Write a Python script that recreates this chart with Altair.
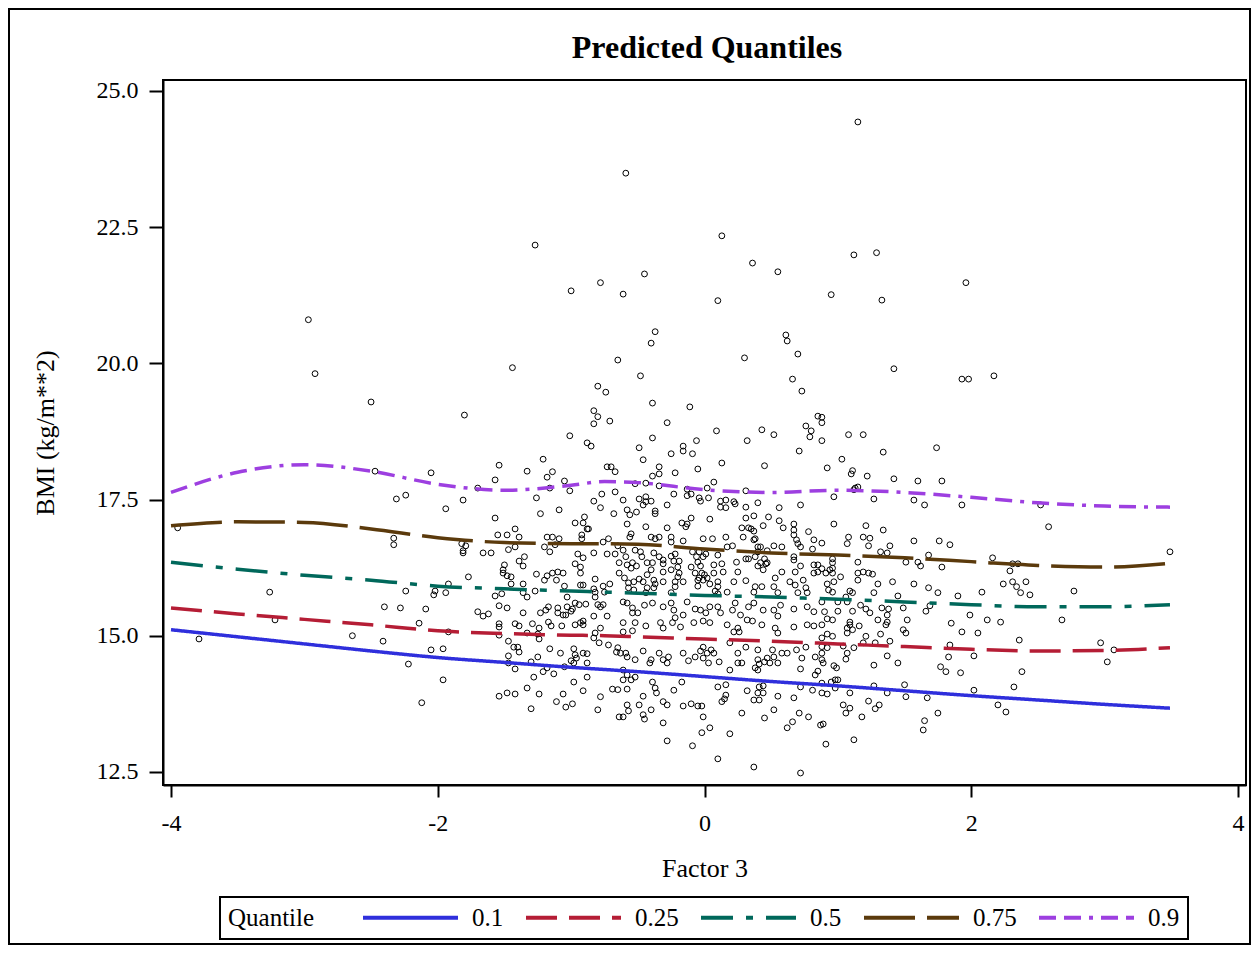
import altair as alt
import pandas as pd

obs_outer = [
    (-2.97, 20.80), (-2.92, 19.81), (-2.50, 19.29), (-2.47, 18.02), (-2.05, 17.99), (-2.31, 17.51),
    (-2.24, 17.58), (-3.95, 16.98), (-2.33, 16.79), (-2.33, 16.67), (-3.26, 15.80), (-2.24, 15.82),
    (-2.02, 15.82), (-2.03, 15.75), (-2.40, 15.53), (-2.28, 15.51), (-2.09, 15.49), (-3.22, 15.29),
    (-2.14, 15.23), (-3.79, 14.94), (-2.64, 15.00), (-2.41, 14.90), (-2.05, 14.74), (-2.22, 14.48),
    (-2.12, 13.77), (-1.96, 14.19), (-1.80, 19.05), (-1.27, 22.17), (-1.44, 19.92), (-1.00, 21.33),
    (-0.78, 21.48), (-0.61, 21.27), (-0.59, 23.49), (-0.45, 21.64), (-0.40, 20.37), (-0.37, 20.58),
    (-0.65, 20.06), (-0.48, 19.77), (0.10, 21.15), (0.13, 22.34), (0.36, 21.84), (0.30, 20.10),
    (0.55, 21.68), (0.61, 20.52), (0.62, 20.41), (0.70, 20.17), (0.95, 21.26), (1.12, 21.99),
    (1.15, 24.43), (1.29, 22.03), (1.33, 21.16), (1.42, 19.90), (1.96, 21.48), (1.93, 19.71),
    (1.98, 19.71), (2.17, 19.77), (2.52, 17.40), (2.58, 17.00), (3.49, 16.54), (2.77, 15.82),
    (2.68, 15.29), (2.97, 14.87), (3.02, 14.52), (3.07, 14.74), (2.38, 14.34), (2.34, 15.90),
    (2.41, 15.99), (2.44, 15.75), (-0.80, 19.58), (-0.74, 19.47), (0.66, 19.71), (0.73, 19.49),
    (1.84, 16.67), (2.36, 14.92),
]

obs_upper_left = [
    (-0.83, 19.13), (-0.80, 19.02), (-0.83, 18.89), (-0.71, 18.94), (-1.01, 18.67), (-0.88, 18.54),
    (-0.85, 18.48), (-1.54, 18.13), (-1.21, 18.24), (-1.33, 18.02), (-1.14, 18.01), (-1.18, 17.91),
    (-1.57, 17.86), (-1.70, 17.71), (-1.16, 17.71), (-1.05, 17.84), (-1.01, 17.66), (-0.73, 18.10),
    (-0.70, 18.10), (-0.67, 18.01), (-0.67, 17.64), (-1.81, 17.49), (-1.26, 17.53), (-0.77, 17.60),
    (-0.83, 17.47), (-0.78, 17.35), (-1.94, 17.33), (-1.09, 17.31), (-1.23, 17.24), (-0.68, 17.24),
    (-1.57, 17.16), (-0.97, 17.07), (-0.90, 17.18), (-0.91, 17.07), (-1.42, 16.96), (-0.88, 16.96),
    (-0.87, 16.96), (-1.55, 16.85), (-1.48, 16.85), (-1.39, 16.81), (-1.18, 16.81), (-1.14, 16.81),
    (-1.09, 16.78), (-0.92, 16.85), (-0.92, 16.78), (-1.82, 16.69), (-1.79, 16.65), (-1.81, 16.56),
    (-1.81, 16.52), (-1.66, 16.52), (-1.60, 16.52), (-1.47, 16.58), (-1.42, 16.63), (-1.20, 16.63),
    (-1.16, 16.54), (-1.12, 16.67), (-0.95, 16.50), (-0.91, 16.43), (-0.83, 16.52), (-0.76, 16.72),
    (-0.72, 16.78), (-0.73, 16.50), (-0.67, 16.50), (-0.65, 16.65), (-1.35, 16.45), (-1.39, 16.37),
    (-1.36, 16.28), (-1.50, 16.30), (-1.51, 16.21), (-1.51, 16.15), (-1.48, 16.10), (-0.97, 16.32),
    (-0.93, 16.26), (-0.93, 16.15), (-1.77, 16.08), (-1.45, 16.08), (-1.26, 16.13), (-1.18, 16.10),
    (-1.14, 16.15), (-1.10, 16.17), (-1.06, 16.15), (-1.20, 16.02), (-1.11, 16.02), (-0.82, 16.04),
    (-0.76, 15.91), (-0.71, 15.95), (-0.64, 16.15), (-0.64, 16.34), (-1.92, 15.95), (-1.94, 15.79),
    (-1.45, 15.95), (-1.36, 15.95), (-1.36, 15.79), (-1.33, 15.71), (-1.57, 15.73), (-1.52, 15.77),
    (-1.27, 15.82), (-1.05, 15.91), (-0.93, 15.93), (-0.91, 15.93), (-0.83, 15.86), (-0.82, 15.80),
    (-0.82, 15.71), (-1.03, 15.71), (-0.75, 15.80),
]

obs_upper_mid = [
    (-0.39, 19.27), (-0.11, 19.20), (-0.28, 18.91), (0.09, 18.76), (0.43, 18.78), (0.52, 18.69),
    (0.76, 18.85), (0.80, 18.76), (0.79, 18.65), (0.85, 19.03), (-0.39, 18.63), (-0.06, 18.58),
    (0.32, 18.58), (-0.49, 18.45), (-0.16, 18.48), (-0.16, 18.39), (-0.25, 18.34), (-0.09, 18.34),
    (0.71, 18.39), (-0.46, 18.23), (0.13, 18.17), (0.45, 18.12), (-0.34, 18.10), (-0.34, 17.97),
    (-0.39, 17.93), (-0.22, 17.99), (-0.05, 18.06), (-0.52, 17.79), (-0.44, 17.80), (-0.34, 17.75),
    (0.07, 17.82), (0.02, 17.71), (-0.13, 17.69), (-0.10, 17.60), (-0.13, 17.57), (0.31, 17.66),
    (-0.23, 17.60), (-0.61, 17.49), (-0.49, 17.51), (-0.44, 17.55), (-0.40, 17.47), (-0.46, 17.40),
    (-0.44, 17.46), (-0.04, 17.53), (-0.03, 17.47), (0.03, 17.53), (0.12, 17.47), (0.16, 17.49),
    (0.12, 17.36), (0.16, 17.35), (0.22, 17.46), (0.23, 17.42), (0.31, 17.36), (0.40, 17.44),
    (0.56, 17.35), (0.72, 17.40), (-0.58, 17.31), (-0.56, 17.22), (-0.51, 17.27), (-0.37, 17.29),
    (-0.37, 17.24), (-0.28, 17.40), (-0.58, 17.05), (-0.10, 17.16), (-0.17, 17.07), (-0.13, 17.05),
    (-0.14, 17.00), (0.04, 17.14), (0.31, 17.16), (0.37, 17.20), (0.48, 17.18), (0.56, 17.11),
    (-0.44, 17.00), (-0.28, 16.98), (0.44, 17.02), (0.59, 16.98), (0.28, 16.98), (0.33, 16.98),
    (0.35, 16.96), (0.37, 16.92), (0.67, 17.05), (0.67, 16.94), (0.78, 16.91), (-0.55, 16.87),
    (-0.56, 16.81), (-0.40, 16.81), (-0.37, 16.78), (-0.34, 16.81), (-0.25, 16.81), (-0.25, 16.72),
    (-0.16, 16.74), (-0.01, 16.78), (0.06, 16.78), (0.16, 16.81), (0.29, 16.81), (0.37, 16.76),
    (0.38, 16.78), (0.67, 16.85), (0.69, 16.76), (0.70, 16.69), (0.72, 16.63), (0.58, 16.63),
    (0.52, 16.65), (0.82, 16.76), (0.81, 16.59), (-0.61, 16.57), (-0.52, 16.57), (-0.48, 16.54),
    (-0.47, 16.45), (-0.38, 16.52), (-0.34, 16.45), (-0.31, 16.39), (-0.25, 16.46), (-0.22, 16.50),
    (-0.23, 16.37), (-0.09, 16.54), (-0.04, 16.54), (-0.06, 16.45), (-0.01, 16.45), (0.01, 16.50),
    (0.10, 16.48), (0.17, 16.63), (0.21, 16.65), (0.40, 16.63), (0.42, 16.63), (0.47, 16.56),
    (0.40, 16.54), (0.31, 16.41), (0.33, 16.41), (0.38, 16.45), (0.42, 16.34), (0.47, 16.34),
    (0.45, 16.41), (0.67, 16.45), (0.67, 16.39), (0.72, 16.28), (0.82, 16.30), (0.85, 16.30),
    (-0.59, 16.45), (-0.58, 16.30), (-0.54, 16.34), (-0.55, 16.24), (-0.51, 16.28), (-0.43, 16.34),
    (-0.40, 16.21), (-0.43, 16.12), (-0.39, 16.34), (-0.31, 16.32), (-0.31, 16.17), (-0.25, 16.21),
    (-0.19, 16.37), (-0.20, 16.26), (-0.19, 16.15), (-0.20, 16.08), (-0.10, 16.26), (-0.05, 16.35),
    (-0.03, 16.28), (-0.07, 16.15), (-0.02, 16.15), (-0.04, 16.06), (0.00, 16.12), (0.02, 16.06),
    (0.07, 16.30), (0.13, 16.32), (0.07, 16.15), (0.14, 16.17), (0.25, 16.17), (0.24, 16.35),
    (0.40, 16.28), (0.46, 16.32), (0.44, 16.21), (0.58, 16.17), (0.68, 16.17), (0.82, 16.15),
    (0.85, 16.17), (-0.60, 16.06), (-0.57, 15.97), (-0.53, 15.99), (-0.49, 16.04), (-0.46, 15.99),
    (-0.53, 15.84), (-0.57, 15.88), (-0.38, 16.02), (-0.37, 15.95), (-0.38, 15.88), (-0.31, 15.99),
    (-0.22, 15.99), (-0.16, 15.99), (-0.05, 16.02), (-0.01, 16.02), (-0.05, 15.91), (0.04, 15.95),
    (0.10, 15.99), (0.10, 15.90), (0.08, 15.82), (0.10, 15.77), (0.17, 15.80), (0.22, 15.99),
    (0.31, 16.01), (0.38, 15.90), (0.43, 15.90), (0.53, 16.06), (0.52, 15.90), (0.55, 15.79),
    (0.64, 15.99), (0.74, 16.02), (0.76, 15.88), (0.68, 15.93), (0.70, 15.79), (0.77, 15.79),
    (0.37, 15.80), (-0.43, 15.88), (-0.44, 15.79), (-0.25, 15.79), (-0.22, 15.90),
]

obs_upper_right = [
    (0.88, 19.01), (0.88, 18.91), (1.08, 18.69), (1.19, 18.69), (0.88, 18.58), (1.34, 18.37),
    (1.74, 18.45), (1.03, 18.24), (0.92, 18.08), (1.11, 18.03), (1.10, 17.97), (1.22, 17.93),
    (1.42, 17.88), (1.60, 17.84), (1.78, 17.84), (1.13, 17.71), (1.15, 17.73), (1.12, 17.68),
    (0.97, 17.55), (1.27, 17.51), (1.57, 17.49), (1.65, 17.40), (1.93, 17.40), (0.97, 17.05),
    (1.21, 17.02), (1.34, 16.94), (1.08, 16.81), (1.07, 16.69), (1.19, 16.81), (1.24, 16.79),
    (1.23, 16.65), (1.39, 16.65), (1.57, 16.74), (1.76, 16.74), (0.88, 16.70), (1.32, 16.54),
    (1.37, 16.52), (1.68, 16.48), (2.16, 16.43), (0.96, 16.41), (0.96, 16.34), (0.96, 16.24),
    (1.15, 16.35), (1.51, 16.35), (1.60, 16.35), (1.62, 16.28), (1.78, 16.26), (0.88, 16.23),
    (0.91, 16.15), (0.94, 16.21), (0.96, 16.15), (1.02, 16.08), (0.97, 15.99), (0.92, 15.95),
    (0.93, 15.84), (0.96, 15.80), (1.15, 16.15), (1.15, 16.02), (1.19, 16.17), (1.23, 16.15),
    (1.26, 16.13), (2.31, 16.32), (2.29, 16.19), (2.35, 16.32), (1.30, 15.95), (1.41, 15.99),
    (1.57, 15.95), (1.68, 15.88), (1.75, 15.79), (1.90, 15.73), (2.08, 15.80), (2.24, 15.95),
    (2.31, 15.99), (2.37, 15.79), (1.09, 15.82), (1.11, 15.79), (1.27, 15.79), (1.45, 15.73),
    (1.06, 15.71),
]

obs_lower_left = [
    (-1.54, 15.55), (-1.48, 15.51), (-1.70, 15.44), (-1.66, 15.36), (-1.62, 15.40), (-1.36, 15.42),
    (-1.23, 15.42), (-1.19, 15.47), (-1.17, 15.53), (-1.10, 15.51), (-1.03, 15.53), (-0.97, 15.60),
    (-0.94, 15.57), (-0.89, 15.58), (-1.10, 15.42), (-1.06, 15.38), (-1.04, 15.38), (-1.00, 15.45),
    (-0.99, 15.49), (-0.80, 15.57), (-0.76, 15.57), (-0.78, 15.53), (-0.83, 15.36), (-0.73, 15.36),
    (-0.91, 15.27), (-0.97, 15.20), (-0.91, 15.20), (-0.93, 15.24), (-1.54, 15.22), (-1.54, 15.16),
    (-1.42, 15.22), (-1.39, 15.18), (-1.29, 15.22), (-1.24, 15.14), (-1.17, 15.25), (-1.15, 15.18),
    (-1.07, 15.18), (-1.92, 15.07), (-1.54, 15.01), (-1.25, 15.03), (-1.24, 14.94), (-1.33, 15.05),
    (-0.82, 15.05), (-0.78, 15.14), (-0.83, 14.96), (-0.79, 14.87), (-0.72, 14.83), (-0.65, 14.78),
    (-0.66, 14.70), (-0.63, 14.68), (-1.47, 14.90), (-1.43, 14.79), (-1.40, 14.79), (-1.39, 14.70),
    (-1.47, 14.63), (-1.96, 14.76), (-1.16, 14.76), (-1.08, 14.68), (-0.98, 14.76), (-0.97, 14.65),
    (-0.91, 14.68), (-0.88, 14.67), (-0.96, 14.59), (-1.00, 14.54), (-0.98, 14.50), (-0.88, 14.50),
    (-1.30, 14.52), (-1.25, 14.61), (-1.42, 14.39), (-1.18, 14.41), (-1.13, 14.30), (-1.21, 14.34),
    (-1.28, 14.24), (-1.05, 14.43), (-0.88, 14.24), (-1.47, 14.50), (-1.33, 14.04), (-0.98, 14.15),
    (-0.91, 13.99), (-0.69, 14.02), (-0.65, 14.01), (-1.54, 13.89), (-1.48, 13.95), (-1.42, 13.93),
    (-1.24, 13.93), (-1.06, 13.93), (-0.78, 13.88), (-1.30, 13.66), (-1.11, 13.79), (-1.04, 13.69),
    (-0.99, 13.75), (-0.80, 13.64), (-0.64, 13.51),
]

obs_lower_mid = [
    (-0.61, 15.62), (-0.58, 15.60), (-0.54, 15.51), (-0.50, 15.42), (-0.45, 15.56), (-0.39, 15.60),
    (-0.31, 15.53), (-0.25, 15.60), (-0.23, 15.47), (-0.16, 15.38), (-0.22, 15.33), (-0.13, 15.62),
    (-0.07, 15.49), (-0.03, 15.47), (0.01, 15.42), (0.04, 15.53), (0.10, 15.53), (0.12, 15.42),
    (0.21, 15.47), (0.23, 15.60), (0.27, 15.38), (0.33, 15.53), (0.37, 15.60), (0.44, 15.47),
    (0.52, 15.47), (0.55, 15.36), (0.57, 15.56), (0.67, 15.49), (0.77, 15.53), (0.82, 15.44),
    (-0.54, 15.42), (-0.61, 15.24), (-0.52, 15.24), (-0.44, 15.18), (-0.33, 15.24), (-0.31, 15.14),
    (-0.24, 15.24), (-0.18, 15.16), (-0.08, 15.24), (-0.01, 15.27), (0.04, 15.24), (0.17, 15.20),
    (0.22, 15.07), (0.25, 15.14), (0.26, 15.07), (0.32, 15.29), (0.36, 15.27), (0.43, 15.20),
    (0.53, 15.14), (0.55, 15.05), (0.67, 15.16), (0.77, 15.20), (0.82, 15.18), (-0.61, 15.07),
    (-0.54, 15.09), (-0.46, 14.72), (-0.34, 14.68), (-0.31, 14.56), (-0.27, 14.61), (-0.16, 14.68),
    (-0.12, 14.54), (-0.07, 14.61), (-0.03, 14.72), (-0.01, 14.79), (0.02, 14.68), (0.05, 14.74),
    (0.07, 14.68), (0.11, 14.52), (-0.01, 14.59), (0.03, 14.50), (0.19, 14.87), (0.31, 14.79),
    (0.25, 14.68), (0.28, 14.50), (0.40, 14.74), (0.51, 14.74), (0.52, 14.61), (0.55, 14.50),
    (0.58, 14.68), (0.62, 14.68), (0.69, 14.74), (0.73, 14.59), (0.72, 14.39), (0.76, 14.79),
    (0.83, 14.61), (0.83, 14.28), (0.85, 14.35), (-0.59, 14.68), (-0.52, 14.56), (-0.58, 14.61),
    (-0.40, 14.56), (-0.41, 14.50), (-0.28, 14.50), (-0.61, 14.37), (-0.58, 14.28), (-0.52, 14.24),
    (-0.61, 14.19), (-0.55, 14.19), (-0.58, 14.02), (0.19, 14.37), (0.25, 14.50), (0.40, 14.56),
    (0.41, 14.48), (0.40, 14.37), (0.38, 14.41), (0.45, 14.52), (0.47, 14.59), (0.49, 14.50),
    (-0.39, 14.15), (-0.37, 14.04), (-0.36, 13.95), (-0.23, 14.00), (-0.17, 14.15), (0.10, 14.06),
    (0.16, 14.10), (0.32, 13.99), (0.41, 14.06), (0.44, 14.08), (0.40, 13.95), (0.44, 13.95),
    (0.55, 13.89), (0.67, 13.86), (0.72, 14.06), (0.81, 14.00), (-0.46, 13.89), (-0.58, 13.73),
    (-0.57, 13.62), (-0.49, 13.73), (-0.40, 13.64), (-0.31, 13.79), (-0.28, 13.73), (-0.61, 13.51),
    (-0.46, 13.55), (-0.45, 13.47), (-0.16, 13.71), (-0.10, 13.75), (-0.05, 13.71), (-0.02, 13.71),
    (-0.01, 13.51), (0.16, 13.91), (0.15, 13.84), (0.13, 13.79), (0.28, 13.58), (0.37, 13.82),
    (0.41, 13.82), (0.45, 13.49), (0.52, 13.64), (0.71, 13.58), (0.78, 13.51), (0.87, 13.36),
    (-0.31, 13.40), (0.04, 13.31), (-0.02, 13.22), (0.19, 13.20), (0.66, 13.42), (0.62, 13.31),
    (-0.28, 13.07), (-0.09, 12.98), (0.10, 12.74), (0.37, 12.59), (0.72, 12.48),
]

obs_lower_right = [
    (0.88, 15.62), (1.00, 15.62), (1.07, 15.62), (1.17, 15.56), (1.21, 15.49), (1.24, 15.42),
    (1.33, 15.51), (1.38, 15.49), (1.37, 15.38), (0.90, 15.44), (0.96, 15.29), (0.92, 15.31),
    (1.00, 15.45), (1.11, 15.45), (0.88, 15.20), (1.09, 15.25), (1.09, 15.20), (1.11, 15.11),
    (1.07, 15.14), (1.07, 15.05), (1.16, 15.18), (0.92, 15.03), (0.96, 14.99), (0.88, 14.96),
    (1.21, 14.99), (1.49, 15.51), (1.66, 15.45), (1.69, 15.55), (1.49, 15.11), (1.51, 15.05),
    (1.30, 15.29), (1.32, 15.03), (1.37, 15.25), (1.36, 15.20), (1.52, 15.29), (1.39, 14.90),
    (1.19, 14.87), (1.28, 14.87), (1.04, 14.81), (0.88, 14.80), (0.92, 14.78), (1.12, 14.78),
    (0.88, 14.68), (1.07, 14.68), (1.06, 14.57), (0.88, 14.56), (0.89, 14.50), (1.37, 14.63),
    (1.27, 14.46), (1.45, 14.50), (0.97, 14.45), (0.99, 14.41), (0.98, 14.19), (0.95, 14.15),
    (1.00, 14.19), (0.88, 14.13), (0.98, 14.04), (1.09, 13.95), (0.88, 13.95), (0.92, 13.93),
    (1.27, 14.08), (1.37, 13.95), (1.50, 14.10), (1.51, 13.88), (1.23, 13.80), (1.31, 13.73),
    (1.28, 13.66), (1.04, 13.73), (1.06, 13.58), (1.09, 13.67), (1.18, 13.51), (0.89, 13.38),
    (0.91, 13.01), (1.12, 13.09), (1.67, 13.86), (1.75, 13.58), (1.65, 13.44), (1.64, 13.27),
    (1.83, 14.61), (1.77, 14.43), (1.81, 14.34), (1.92, 14.32), (1.84, 14.83), (1.85, 15.23),
    (1.93, 15.07), (1.99, 15.38), (2.05, 15.05), (2.12, 15.29), (2.22, 15.25), (2.02, 14.63),
    (2.02, 14.00), (2.20, 13.73), (2.26, 13.60), (2.32, 14.06),
]

# ---------------- predicted quantile curves ----------------
curve_x = [-4.0, -3.5, -3.0, -2.5, -2.0, -1.5, -1.0, -0.75, -0.5, 0.0, 0.5, 1.0, 1.5, 2.0, 2.5, 3.0, 3.49]
q_010 = [15.11, 14.98, 14.85, 14.72, 14.60, 14.51, 14.42, 14.38, 14.34, 14.25, 14.16, 14.08, 13.99, 13.90, 13.82, 13.74, 13.67]
q_025 = [15.51, 15.40, 15.30, 15.20, 15.09, 15.04, 15.01, 15.00, 14.98, 14.94, 14.90, 14.85, 14.80, 14.75, 14.72, 14.73, 14.78]
q_050 = [16.35, 16.22, 16.11, 16.02, 15.91, 15.86, 15.82, 15.80, 15.78, 15.74, 15.71, 15.67, 15.62, 15.57, 15.53, 15.53, 15.57]
q_075 = [17.02, 17.09, 17.08, 16.96, 16.80, 16.71, 16.69, 16.69, 16.68, 16.59, 16.52, 16.48, 16.43, 16.36, 16.29, 16.26, 16.33]
q_090 = [17.63, 18.00, 18.14, 18.02, 17.78, 17.67, 17.76, 17.83, 17.81, 17.68, 17.63, 17.67, 17.63, 17.54, 17.44, 17.38, 17.36]

quantile_labels = ["0.1", "0.25", "0.5", "0.75", "0.9"]
quantile_colors = ["#2F2FDC", "#B51D35", "#00685B", "#5B3A0C", "#9D3FE0"]
quantile_dashes = [[1, 0], [31, 12], [32, 13, 7, 13], [51, 12], [17, 8, 17, 8, 4, 8]]

chart_title = "Predicted Quantiles"

# ---------------- tables ----------------
points = (obs_outer + obs_upper_left + obs_upper_mid + obs_upper_right
          + obs_lower_left + obs_lower_mid + obs_lower_right)
df_pts = pd.DataFrame(points, columns=["factor3", "bmi"])

rows = []
for lab, vals in zip(quantile_labels, [q_010, q_025, q_050, q_075, q_090]):
    for xv, yv in zip(curve_x, vals):
        rows.append({"factor3": xv, "bmi": yv, "quantile": lab})
df_lines = pd.DataFrame(rows)

FONT = "Liberation Serif"

x_scale = alt.Scale(domain=[-4.06, 4.06], nice=False, zero=False)
y_scale = alt.Scale(domain=[12.26, 25.2], nice=False, zero=False)

x_axis = alt.Axis(values=[-4, -2, 0, 2, 4], labelExpr="datum.value + ''", title="Factor 3",
                  grid=False, tickSize=12, labelPadding=14, titlePadding=20)
y_axis = alt.Axis(values=[12.5, 15, 17.5, 20, 22.5, 25], format=".1f", title="BMI (kg/m**2)",
                  grid=False, tickSize=14, labelPadding=11, titlePadding=38)

scatter = alt.Chart(df_pts).mark_point(
    shape="circle", filled=False, color="black", size=34, strokeWidth=1, opacity=1
).encode(
    x=alt.X("factor3:Q", scale=x_scale, axis=x_axis),
    y=alt.Y("bmi:Q", scale=y_scale, axis=y_axis),
)

leg = alt.Legend(
    title="Quantile", orient="none", legendX=57, legendY=817, direction="horizontal",
    titleOrient="left", columns=5,
)

lines = alt.Chart(df_lines).mark_line(strokeWidth=3.5, interpolate="monotone").encode(
    x=alt.X("factor3:Q", scale=x_scale),
    y=alt.Y("bmi:Q", scale=y_scale),
    color=alt.Color("quantile:N", scale=alt.Scale(domain=quantile_labels, range=quantile_colors), legend=leg),
    strokeDash=alt.StrokeDash("quantile:N", scale=alt.Scale(domain=quantile_labels, range=quantile_dashes), legend=leg),
)

title_mark = alt.Chart(pd.DataFrame({"label": [chart_title]})).mark_text(
    font=FONT, fontSize=32, fontWeight="bold", align="center", baseline="middle", color="black"
).encode(
    text="label:N", x=alt.value(544), y=alt.value(-32)
)

frame = alt.Chart(pd.DataFrame({"a": [0]})).mark_rect(
    fillOpacity=0, stroke="black", strokeWidth=2
).encode(
    x=alt.value(-154), x2=alt.value(1087), y=alt.value(-71), y2=alt.value(864)
)

chart = alt.layer(scatter, lines, title_mark, frame).properties(
    width=1083, height=705,
    autosize=alt.AutoSizeParams(type="none"),
    padding={"left": 155, "top": 72, "right": 5, "bottom": 160},
).configure_view(
    stroke="black", strokeWidth=2
).configure_axis(
    labelFont=FONT, titleFont=FONT, labelFontSize=24, titleFontSize=26, titleFontWeight="normal",
    labelColor="black", titleColor="black", domainColor="black", tickColor="black",
    domainWidth=2, tickWidth=2,
).configure_legend(
    labelFont=FONT, titleFont=FONT, labelFontSize=25, titleFontSize=25, titleFontWeight="normal",
    labelColor="black", titleColor="black", strokeColor="black", strokeWidth=2, padding=8,
    symbolType="M-1,0H9", symbolSize=361, symbolStrokeWidth=4, labelOffset=87,
    columnPadding=14, titlePadding=45,
)

chart.save("out.html", embed_options={"renderer": "svg", "actions": False})
